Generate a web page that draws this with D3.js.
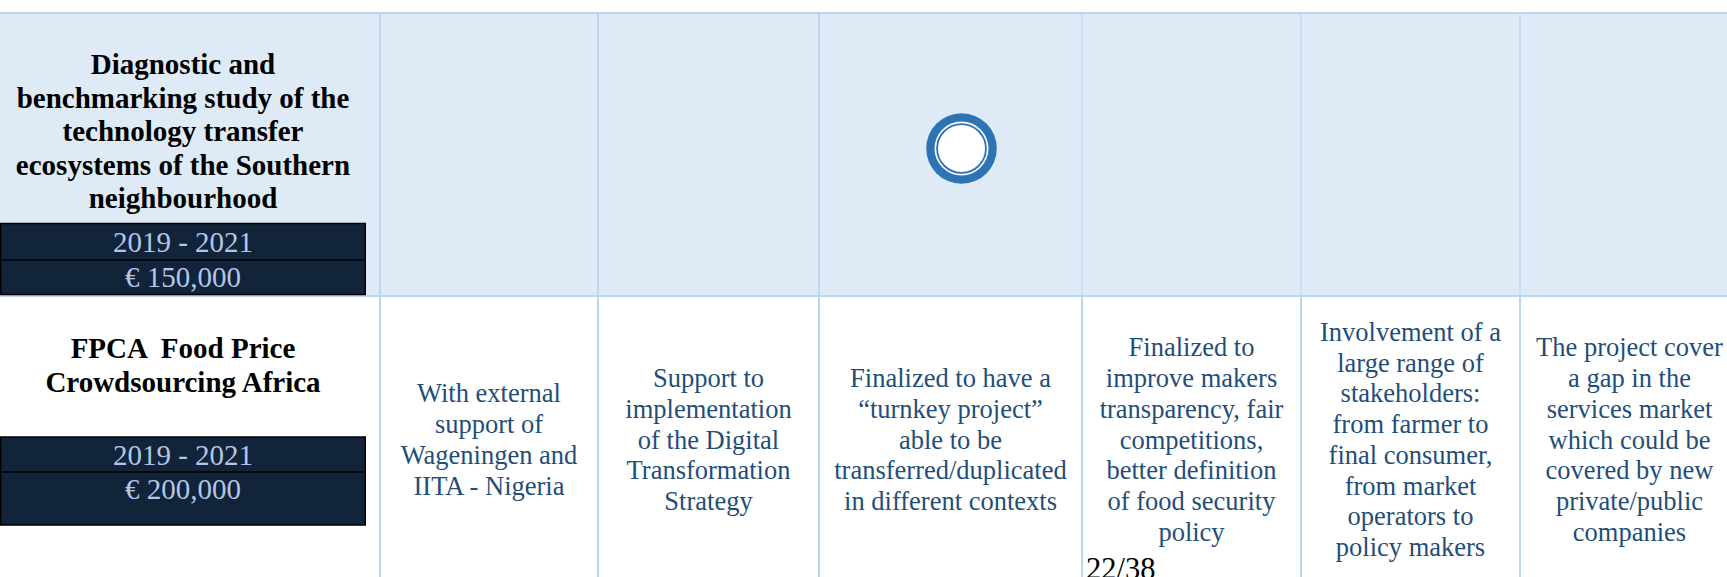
<!DOCTYPE html>
<html><head><meta charset="utf-8">
<script src="https://cdn.jsdelivr.net/npm/d3@7"></script>
<style>html,body{margin:0;padding:0;background:#fff;overflow:hidden} text{white-space:pre}</style>
</head><body>
<svg id="c" width="1727" height="577"></svg>
<script>
// ---- data ----
const projectTitles = [
  ["Diagnostic and", "benchmarking study of the", "technology transfer", "ecosystems of the Southern", "neighbourhood"],
  ["FPCA  Food Price", "Crowdsourcing Africa"]
];
const periods = ["2019 - 2021", "2019 - 2021"];
const budgets = ["€ 150,000", "€ 200,000"];
// row 2 criteria texts, columns 1..6
const row2Texts = [
  ["With external", "support of", "Wageningen and", "IITA - Nigeria"],
  ["Support to", "implementation", "of the Digital", "Transformation", "Strategy"],
  ["Finalized to have a", "\u201cturnkey project\u201d", "able to be", "transferred/duplicated", "in different contexts"],
  ["Finalized to", "improve makers", "transparency, fair", "competitions,", "better definition", "of food security", "policy"],
  ["Involvement of a", "large range of", "stakeholders:", "from farmer to", "final consumer,", "from market", "operators to", "policy makers"],
  ["The project cover", "a gap in the", "services market", "which could be", "covered by new", "private/public", "companies"]
];
const ratings = [{row: 0, col: 3}];
const pageLabel = "22/38";

// ---- layout ----
const colEdges = [0, 380, 598, 819, 1082, 1301, 1520, 1739];
const rowEdges = [13, 296, 600];
const C = {
  headBg: "#deeaf6", border: "#bdd6ee", box: "#12243a", boxText: "#b4c6e7",
  body: "#1f4e79", mark: "#2e74b5"
};
const serif = "'Liberation Serif','Times New Roman',Times,serif";

const svg = d3.select("#c");
const xs = d3.scaleOrdinal().domain(d3.range(colEdges.length)).range(colEdges);
const ys = d3.scaleOrdinal().domain(d3.range(rowEdges.length)).range(rowEdges);
const colCenter = i => (xs(i) + xs(i + 1)) / 2;

// header row background
svg.append("rect").attr("x", 0).attr("y", ys(0)).attr("width", 1727)
  .attr("height", ys(1) - ys(0)).attr("fill", C.headBg);

// column lines
const colIdx = d3.range(1, colEdges.length - 1);
svg.selectAll("line.vh").data(colIdx).join("line").attr("class", "vh")
  .attr("x1", d => xs(d)).attr("x2", d => xs(d))
  .attr("y1", ys(0)).attr("y2", ys(1))
  .attr("stroke", C.border).attr("stroke-width", d => d <= 3 ? 2 : 1.2);
svg.selectAll("line.vb").data(colIdx).join("line").attr("class", "vb")
  .attr("x1", d => xs(d)).attr("x2", d => xs(d))
  .attr("y1", ys(1)).attr("y2", ys(2))
  .attr("stroke", C.border).attr("stroke-width", 2);
// row lines
svg.selectAll("line.h").data([0, 1]).join("line").attr("class", "h")
  .attr("x1", 0).attr("x2", 1727).attr("y1", d => ys(d)).attr("y2", d => ys(d))
  .attr("stroke", C.border).attr("stroke-width", 2);

// project title cells
const rowLayout = [
  {titleBase: 74, lh: 33.5, boxTop: 223.5, boxMid: 260, boxBot: 294.5},
  {titleBase: 358.3, lh: 33.4, boxTop: 437, boxMid: 472, boxBot: 525}
];
const boxW = 366, boxCx = boxW / 2;

projectTitles.forEach((lines, r) => {
  const L = rowLayout[r];
  svg.append("g").selectAll("text").data(lines).join("text")
    .attr("x", boxCx).attr("y", (d, i) => L.titleBase + i * L.lh)
    .attr("text-anchor", "middle").attr("font-family", serif)
    .attr("font-weight", "bold").attr("font-size", 29).attr("fill", "#000")
    .attr("xml:space", "preserve")
    .text(d => d);
  const g = svg.append("g");
  g.append("rect").attr("x", 0.75).attr("y", L.boxTop).attr("width", boxW - 1.5)
    .attr("height", L.boxBot - L.boxTop).attr("fill", C.box)
    .attr("stroke", "#000").attr("stroke-width", 1.5);
  g.append("line").attr("x1", 0).attr("x2", boxW).attr("y1", L.boxMid).attr("y2", L.boxMid)
    .attr("stroke", "#000").attr("stroke-width", 1.5);
  g.append("text").attr("x", boxCx).attr("y", L.boxTop + 28)
    .attr("text-anchor", "middle").attr("font-family", serif).attr("font-size", 29)
    .attr("fill", C.boxText).text(periods[r]);
  g.append("text").attr("x", boxCx).attr("y", L.boxMid + 27)
    .attr("text-anchor", "middle").attr("font-family", serif).attr("font-size", 29)
    .attr("fill", C.boxText).text(budgets[r]);
});

// row 2 criteria texts
const bodyCenter = 440, bodyLH = 30.7;
row2Texts.forEach((lines, k) => {
  const col = k + 1;
  const n = lines.length;
  svg.append("g").selectAll("text").data(lines).join("text")
    .attr("x", colCenter(col))
    .attr("y", (d, i) => bodyCenter - (n - 1) / 2 * bodyLH + i * bodyLH + 8.5)
    .attr("text-anchor", "middle").attr("font-family", serif).attr("font-size", 26.5)
    .attr("fill", C.body).text(d => d);
});

// rating marks
const markOffsetX = 11, markOffsetY = -6;
const mg = svg.selectAll("g.mark").data(ratings).join("g").attr("class", "mark")
  .attr("transform", d => `translate(${colCenter(d.col) + markOffsetX},${(ys(d.row) + ys(d.row + 1)) / 2 + markOffsetY})`);
mg.append("circle").attr("r", 35.3).attr("fill", C.mark);
mg.append("circle").attr("r", 27).attr("fill", "#fff");
mg.append("circle").attr("r", 24.4).attr("fill", "#fff").attr("stroke", C.mark).attr("stroke-width", 1.8);

// page number
svg.append("text").attr("x", 1086).attr("y", 579).attr("font-family", serif)
  .attr("font-size", 30.5).attr("fill", "#000").text(pageLabel);
</script>
</body></html>
